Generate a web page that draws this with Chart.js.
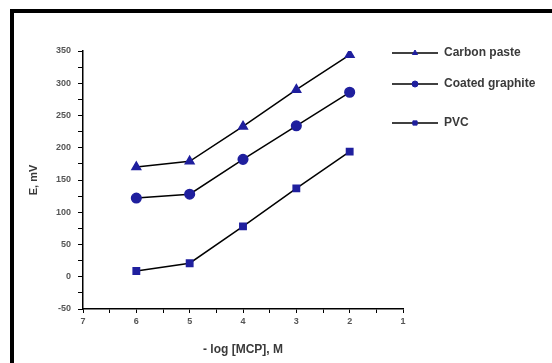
<!DOCTYPE html>
<html>
<head>
<meta charset="utf-8">
<script src="https://cdn.jsdelivr.net/npm/chart.js@4/dist/chart.umd.min.js"></script>
<style>
  html, body { margin: 0; padding: 0; background: #fff; }
  #wrap { position: relative; width: 552px; height: 363px; overflow: hidden; }
  #frame {
    position: absolute; left: 10px; top: 9px; width: 600px; height: 400px;
    border-top: 4px solid #000; border-left: 4px solid #000; pointer-events: none;
  }
</style>
</head>
<body>
<div id="wrap">
  <canvas id="chart" width="552" height="363"></canvas>
  <div id="frame"></div>
</div>
<script>
/* data */
const logConc = [6, 5, 4, 3, 2];
const carbonPaste = [170, 179, 233, 290, 344];
const coatedGraphite = [122, 128, 182, 234, 286];
const pvc = [9, 21, 78, 137, 194];
const seriesNames = ['Carbon paste', 'Coated graphite', 'PVC'];

const markBlue = '#1f1f9e';
const toPts = ys => logConc.map((x, i) => ({ x: x, y: ys[i] }));

/* legend drawn by hand so it can sit over the top right corner */
const sideLegend = {
  id: 'sideLegend',
  afterDraw(chart) {
    const ctx = chart.ctx;
    const rows = [53, 84, 123];
    ctx.save();
    chart.data.datasets.forEach((ds, i) => {
      const y = rows[i];
      ctx.strokeStyle = '#000';
      ctx.lineWidth = 1.5;
      ctx.beginPath();
      ctx.moveTo(392, y);
      ctx.lineTo(438, y);
      ctx.stroke();
      ctx.fillStyle = markBlue;
      ctx.strokeStyle = markBlue;
      ctx.lineWidth = 1;
      Chart.helpers.drawPoint(ctx, { pointStyle: ds.pointStyle, radius: 3, borderWidth: 1 }, 415, y);
      ctx.fillStyle = '#3a3a3a';
      ctx.font = 'bold 12px "Liberation Sans", Arial, sans-serif';
      ctx.textBaseline = 'middle';
      ctx.fillText(ds.label, 444, y);
    });
    ctx.restore();
  }
};

function lineSet(label, ys, style, r) {
  return {
    label: label,
    data: toPts(ys),
    borderColor: '#000',
    borderWidth: 1.5,
    pointStyle: style,
    pointRadius: r,
    pointBackgroundColor: markBlue,
    pointBorderColor: markBlue,
    fill: false,
    tension: 0
  };
}

const tickFont = { family: '"Liberation Sans", Arial, sans-serif', size: 9, weight: 'bold' };

new Chart(document.getElementById('chart'), {
  type: 'line',
  data: {
    datasets: [
      lineSet(seriesNames[0], carbonPaste, 'triangle', 5),
      lineSet(seriesNames[1], coatedGraphite, 'circle', 4.8),
      lineSet(seriesNames[2], pvc, 'rect', 4.5)
    ]
  },
  options: {
    responsive: false,
    animation: false,
    layout: { padding: { left: 15, top: 51, right: 149, bottom: 0 } },
    plugins: { legend: { display: false }, tooltip: { enabled: false } },
    scales: {
      x: {
        type: 'linear',
        reverse: true,
        min: 1,
        max: 7,
        afterFit(s) { s.height = 54; },
        border: { display: true, color: '#000', width: 1.5 },
        grid: { drawOnChartArea: false, drawTicks: true, tickLength: 4, color: '#000' },
        ticks: {
          stepSize: 0.5,
          autoSkip: false,
          maxRotation: 0,
          padding: 3,
          color: '#555',
          font: tickFont,
          callback: v => Number.isInteger(v) ? String(v) : ''
        },
        title: {
          display: true,
          text: '- log [MCP], M',
          color: '#3a3a3a',
          font: { family: '"Liberation Sans", Arial, sans-serif', size: 12, weight: 'bold' },
          padding: { top: 4, bottom: 6 }
        }
      },
      y: {
        min: -50,
        max: 350,
        afterFit(s) { s.width = 68; },
        border: { display: true, color: '#000', width: 1.5 },
        grid: { drawOnChartArea: false, drawTicks: true, tickLength: 5, color: '#000' },
        ticks: {
          stepSize: 25,
          autoSkip: false,
          padding: 7,
          color: '#555',
          font: tickFont,
          callback: v => v % 50 === 0 ? String(v) : ''
        },
        title: {
          display: true,
          text: 'E, mV',
          color: '#3a3a3a',
          font: { family: '"Liberation Sans", Arial, sans-serif', size: 11, weight: 'bold' },
          padding: { top: 12, bottom: 0 }
        }
      }
    }
  },
  plugins: [sideLegend]
});
</script>
</body>
</html>
